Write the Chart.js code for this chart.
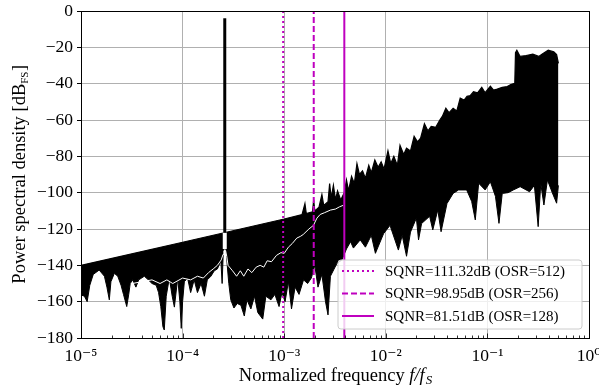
<!DOCTYPE html>
<html>
<head>
<meta charset="utf-8">
<script src="https://cdn.jsdelivr.net/npm/chart.js@4.4.1/dist/chart.umd.min.js"></script>
<style>
  html, body { margin: 0; padding: 0; background: #fff; }
  canvas { display: block; }
</style>
</head>
<body>
<canvas id="psdChart" width="599" height="389"></canvas>
<script>
// upper edge of the dense noise band
const upperFreq = [1e-5, 1e-4, 1e-3, 1.5e-3, 1.6e-3, 1.65e-3, 1.9e-3, 1.95e-3, 2.0e-3, 2.2e-3, 2.35e-3, 2.45e-3,
  2.7e-3, 2.8e-3, 2.9e-3, 3.05e-3, 3.2e-3, 3.35e-3, 3.6e-3, 3.9e-3, 4.1e-3, 4.3e-3, 4.6e-3, 4.9e-3, 5.2e-3,
  5.5e-3, 5.9e-3, 6.3e-3, 6.8e-3, 7.2e-3, 7.8e-3, 8.4e-3, 9e-3, 9.6e-3, 1.05e-2, 1.12e-2, 1.2e-2, 1.3e-2,
  1.38e-2, 1.5e-2, 1.6e-2, 1.75e-2, 1.9e-2, 2.05e-2, 2.2e-2, 2.4e-2, 2.6e-2, 2.8e-2, 3.1e-2, 3.4e-2, 3.6e-2,
  3.9e-2, 4.2e-2, 4.6e-2, 5e-2, 5.4e-2, 5.9e-2, 6.3e-2, 6.8e-2, 7.3e-2, 8e-2, 8.8e-2, 9.5e-2, 0.107, 0.115,
  0.125, 0.14, 0.157, 0.17, 0.186, 0.189, 0.195, 0.21, 0.24, 0.28, 0.32, 0.35, 0.397, 0.45, 0.48, 0.5];
const upperDb = [-140, -127.3, -114.5, -112, -106, -111.5, -110.5, -104, -110, -108, -101, -107,
  -105, -95, -103, -96, -104, -99, -104, -100, -93, -99, -91, -95, -84,
  -90, -88, -92, -85, -89, -82, -86, -83, -87, -77, -84, -80, -85,
  -74, -79, -75.5, -77, -69, -72, -70, -62, -66, -63.5, -64, -60, -58,
  -53.5, -56, -53.5, -55, -48, -49, -47, -46.5, -44.4, -45, -42, -45, -41.4, -43.5,
  -43, -42, -41.6, -40.5, -39.8, -23, -21.6, -25, -24.5, -23.8, -25, -23.5, -21.6, -22.5, -24, -28.8];

// lower edge of the noise band
const lowerFreq = [1e-5, 1.08e-5, 1.15e-5, 1.22e-5, 1.32e-5, 1.51e-5, 1.7e-5, 1.8e-5, 1.9e-5, 1.97e-5, 2.13e-5,
  2.3e-5, 2.48e-5, 2.62e-5, 2.82e-5, 2.95e-5, 3.05e-5, 3.23e-5, 3.47e-5, 3.7e-5, 4.2e-5, 4.6e-5, 5e-5, 5.5e-5,
  5.8e-5, 6.1e-5, 6.4e-5, 6.6e-5, 6.9e-5, 7.4e-5, 7.9e-5, 8.3e-5, 8.95e-5, 9.4e-5, 9.7e-5, 1.0e-4, 1.04e-4,
  1.12e-4, 1.2e-4, 1.3e-4, 1.4e-4, 1.52e-4, 1.64e-4, 1.75e-4, 1.9e-4, 2.05e-4, 2.2e-4, 2.38e-4, 2.45e-4,
  2.52e-4, 2.68e-4, 2.75e-4, 2.85e-4, 2.98e-4, 3.2e-4, 3.45e-4, 3.75e-4, 4.05e-4, 4.3e-4, 4.7e-4, 5.1e-4,
  5.5e-4, 6.15e-4, 6.6e-4, 7.4e-4, 8.1e-4, 8.9e-4, 9.5e-4, 1.02e-3, 1.1e-3, 1.18e-3, 1.28e-3, 1.4e-3,
  1.55e-3, 1.7e-3, 1.85e-3, 2.0e-3, 2.15e-3, 2.35e-3, 2.55e-3, 2.7e-3, 2.85e-3, 3.3e-3, 3.7e-3, 4.1e-3,
  4.5e-3, 4.8e-3, 5.6e-3, 6.3e-3, 7.2e-3, 7.9e-3, 9.5e-3, 1.1e-2, 1.33e-2, 1.45e-2, 1.6e-2, 1.75e-2, 2.0e-2,
  2.1e-2, 2.25e-2, 2.7e-2, 2.9e-2, 3.25e-2, 3.5e-2, 4e-2, 4.6e-2, 5.2e-2, 6.25e-2, 7e-2, 7.6e-2, 8.2e-2,
  9.5e-2, 0.107, 0.12, 0.13, 0.14, 0.16, 0.18, 0.21, 0.26, 0.29, 0.316, 0.335, 0.36, 0.39, 0.435, 0.48, 0.5];
const lowerDb = [-156.3, -157, -160, -151, -145, -142.6, -146, -152, -159, -149, -144.4,
  -146, -151, -156, -162.7, -156, -150, -148, -152, -148, -146, -148, -150, -151,
  -155, -162.7, -173.8, -175.6, -157, -147, -157, -163, -147, -160, -174.7, -160, -149,
  -147, -155, -148, -155, -150, -157, -148, -146, -143, -142, -137.5, -150,
  -131, -131, -140, -150, -159, -163.5, -161, -162, -167.9, -159, -164, -157,
  -166, -169.6, -157, -159, -156, -162.7, -155, -160, -149, -164, -152, -156,
  -148, -150, -147, -140, -152, -145, -160, -167.3, -146, -139, -137, -131,
  -127, -130.5, -126, -130, -123.5, -133.4, -122.6, -118, -131.6, -123.5, -135, -121.7, -114,
  -126, -117, -113, -120.5, -109.5, -121.5, -106, -100.4, -98.5, -98.5, -104.8, -115, -94.8,
  -98.5, -94, -102, -116.9, -100.4, -100, -98.5, -96.7, -99.5, -96, -118.7, -95, -106.8, -93, -100, -105.8, -96];

// smoothed spectrum (white trace)
const smoothFreq = [3.2e-5, 4e-5, 5e-5, 6e-5, 7e-5, 8e-5, 1e-4, 1.2e-4, 1.4e-4, 1.6e-4, 1.8e-4, 2e-4, 2.2e-4,
  2.4e-4, 2.5e-4, 2.55e-4, 2.65e-4, 2.72e-4, 2.8e-4, 3.1e-4, 3.4e-4, 3.7e-4, 4e-4, 4.4e-4, 4.8e-4, 5.3e-4,
  5.8e-4, 6.3e-4, 6.8e-4, 7.5e-4, 8.4e-4, 9.3e-4, 1.0e-3, 1.1e-3, 1.2e-3, 1.33e-3, 1.45e-3, 1.54e-3, 1.75e-3,
  1.94e-3, 2.1e-3, 2.26e-3, 2.5e-3, 2.85e-3, 3.2e-3, 3.5e-3, 3.8e-3];
const smoothDb = [-150, -149, -148, -150, -148, -150, -147, -148, -146, -147, -144, -142, -140,
  -137, -134, -132, -132, -135, -140, -143, -146, -143, -146, -142, -144, -141,
  -140, -141, -137.5, -138, -134.5, -133, -133.4, -130, -128, -125, -124, -123, -120,
  -118, -114, -112, -111, -109.6, -109, -107.8, -107];

// input tone
const toneFreq = 2.6e-4;
const toneDb = [-122, -4];
const toneGapDb = [-131, -122];

// signal band edges
const osrValues = [512, 256, 128];
const sqnrValues = [111.32, 98.95, 81.51];
const bandEdges = [9.766e-4, 1.953e-3, 3.906e-3];
const bandDashes = [[2, 3], [6, 3], []];

const yTicks = [0, -20, -40, -60, -80, -100, -120, -140, -160, -180];
const xTicks = [1e-5, 1e-4, 1e-3, 1e-2, 1e-1, 1];

const MAGENTA = "#bf00bf";
const SERIF = "'Liberation Serif', 'DejaVu Serif', serif";
const SUP = { "0": "\u2070", "1": "\u00b9", "2": "\u00b2", "3": "\u00b3", "4": "\u2074", "5": "\u2075", "-": "\u207b" };

const zip = (xs, ys) => xs.map((x, i) => ({ x: x, y: ys[i] }));

const datasets = [];
bandEdges.forEach((f, i) => {
  datasets.push({
    label: `SQNR=${sqnrValues[i].toFixed(2)}dB (OSR=${osrValues[i]})`,
    data: [{ x: f, y: -180 }, { x: f, y: 0 }],
    borderColor: MAGENTA,
    borderWidth: 2,
    borderDash: bandDashes[i],
    pointRadius: 0,
    order: 0,
  });
});
datasets.push({
  label: "smooth",
  data: zip(smoothFreq, smoothDb),
  borderColor: "#ffffff",
  borderWidth: 1,
  pointRadius: 0,
  order: 1,
});
datasets.push({
  label: "tone",
  data: [{ x: toneFreq, y: toneDb[0] }, { x: toneFreq, y: toneDb[1] }],
  borderColor: "#000",
  borderWidth: 3,
  pointRadius: 0,
  order: 2,
});
datasets.push({
  label: "toneGap",
  data: [{ x: toneFreq, y: toneGapDb[0] }, { x: toneFreq, y: toneGapDb[1] }],
  borderColor: "#fff",
  borderWidth: 4,
  pointRadius: 0,
  order: 2,
});
datasets.push({
  label: "upper",
  data: zip(upperFreq, upperDb),
  borderColor: "#000",
  backgroundColor: "#000",
  borderWidth: 1.2,
  pointRadius: 0,
  fill: "+1",
  order: 3,
});
datasets.push({
  label: "lower",
  data: zip(lowerFreq, lowerDb),
  borderColor: "#000",
  borderWidth: 1,
  pointRadius: 0,
  fill: false,
  order: 4,
});

const framePlugin = {
  id: "frame",
  afterDraw(chart) {
    const ctx = chart.ctx;
    const a = chart.chartArea;
    const xs = chart.scales.x;
    ctx.save();

    // minor ticks on the x axis, pointing inward
    ctx.strokeStyle = "#000";
    ctx.lineWidth = 0.8;
    for (let e = -5; e < 0; e++) {
      for (let k = 1; k <= 9; k++) {
        const px = Math.round(xs.getPixelForValue(k * Math.pow(10, e))) + 0.5;
        const len = k === 1 ? 4.5 : 2.5;
        ctx.beginPath();
        ctx.moveTo(px, a.bottom);
        ctx.lineTo(px, a.bottom - len);
        ctx.stroke();
      }
    }

    // spines
    ctx.lineWidth = 1;
    ctx.strokeRect(Math.round(a.left) + 0.5, Math.round(a.top) + 0.5,
      Math.round(a.right - a.left), Math.round(a.bottom - a.top));

    // x axis title
    ctx.fillStyle = "#000";
    ctx.textBaseline = "alphabetic";
    const partA = "Normalized frequency ";
    const partB = "f/f";
    const partC = "S";
    ctx.font = `18.5px ${SERIF}`;
    const wA = ctx.measureText(partA).width;
    ctx.font = `italic 18.5px ${SERIF}`;
    const wB = ctx.measureText(partB).width;
    ctx.font = `italic 13px ${SERIF}`;
    const wC = ctx.measureText(partC).width;
    let tx = (a.left + a.right) / 2 - (wA + wB + wC) / 2;
    const ty = 381;
    ctx.font = `18.5px ${SERIF}`;
    ctx.fillText(partA, tx, ty);
    tx += wA;
    ctx.font = `italic 18.5px ${SERIF}`;
    ctx.fillText(partB, tx, ty);
    tx += wB + 1;
    ctx.font = `italic 13px ${SERIF}`;
    ctx.fillText(partC, tx, ty + 3);

    // y axis title, rotated
    ctx.save();
    ctx.translate(25, (a.top + a.bottom) / 2);
    ctx.rotate(-Math.PI / 2);
    const yA = "Power spectral density [dB";
    const yB = "FS";
    const yC = "]";
    ctx.font = `18.5px ${SERIF}`;
    const vA = ctx.measureText(yA).width;
    const vC = ctx.measureText(yC).width;
    ctx.font = `11px ${SERIF}`;
    const vB = ctx.measureText(yB).width;
    let ux = -(vA + vB + vC) / 2;
    ctx.font = `18.5px ${SERIF}`;
    ctx.fillText(yA, ux, 0);
    ux += vA;
    ctx.font = `11px ${SERIF}`;
    ctx.fillText(yB, ux, 3);
    ux += vB + 0.5;
    ctx.font = `18.5px ${SERIF}`;
    ctx.fillText(yC, ux, 0);
    ctx.restore();

    // legend box
    const bx = 338, by = 260, bw = 244, bh = 69, r = 3;
    ctx.beginPath();
    ctx.moveTo(bx + r, by);
    ctx.arcTo(bx + bw, by, bx + bw, by + bh, r);
    ctx.arcTo(bx + bw, by + bh, bx, by + bh, r);
    ctx.arcTo(bx, by + bh, bx, by, r);
    ctx.arcTo(bx, by, bx + bw, by, r);
    ctx.closePath();
    ctx.fillStyle = "rgba(255,255,255,0.8)";
    ctx.fill();
    ctx.strokeStyle = "#cccccc";
    ctx.lineWidth = 1;
    ctx.stroke();

    ctx.font = `15px ${SERIF}`;
    ctx.textBaseline = "middle";
    bandEdges.forEach((f, i) => {
      const ds = chart.data.datasets[i];
      const rowY = 271 + i * 22.5;
      ctx.strokeStyle = ds.borderColor;
      ctx.lineWidth = ds.borderWidth;
      ctx.setLineDash(ds.borderDash);
      ctx.beginPath();
      ctx.moveTo(342, rowY);
      ctx.lineTo(374, rowY);
      ctx.stroke();
      ctx.setLineDash([]);
      ctx.fillStyle = "#000";
      ctx.fillText(ds.label, 385, rowY + 1);
    });
    ctx.restore();
  },
};

new Chart(document.getElementById("psdChart"), {
  type: "line",
  data: { datasets: datasets },
  options: {
    responsive: false,
    animation: false,
    devicePixelRatio: 1,
    layout: { padding: { left: 0, top: 11, right: 10, bottom: 0 } },
    plugins: {
      legend: { display: false },
      tooltip: { enabled: false },
    },
    scales: {
      x: {
        type: "logarithmic",
        min: 1e-5,
        max: 1,
        afterBuildTicks: (scale) => {
          scale.ticks = xTicks.map((v) => ({ value: v }));
        },
        afterFit: (scale) => {
          scale.height = 51;
          scale.paddingLeft = 0;
          scale.paddingRight = 0;
        },
        ticks: {
          autoSkip: false,
          maxRotation: 0,
          padding: 8,
          color: "#000",
          font: { family: SERIF, size: 17.5 },
          callback: (v) => {
            const e = Math.round(Math.log10(v)).toString();
            return "10" + e.split("").map((c) => SUP[c]).join("");
          },
        },
        grid: { color: "#b0b0b0", lineWidth: 1, drawTicks: false },
        border: { display: false },
      },
      y: {
        min: -180,
        max: 0,
        afterBuildTicks: (scale) => {
          scale.ticks = yTicks.map((v) => ({ value: v }));
        },
        afterFit: (scale) => {
          scale.width = 81;
          scale.paddingTop = 0;
          scale.paddingBottom = 0;
        },
        ticks: {
          padding: 4,
          color: "#000",
          font: { family: SERIF, size: 17.5 },
          callback: (v) => (v < 0 ? "\u2212" + Math.abs(v) : String(v)),
        },
        grid: { color: "#b0b0b0", lineWidth: 1, tickLength: 4, tickColor: "#000" },
        border: { display: false },
      },
    },
  },
  plugins: [framePlugin],
});
</script>
</body>
</html>
